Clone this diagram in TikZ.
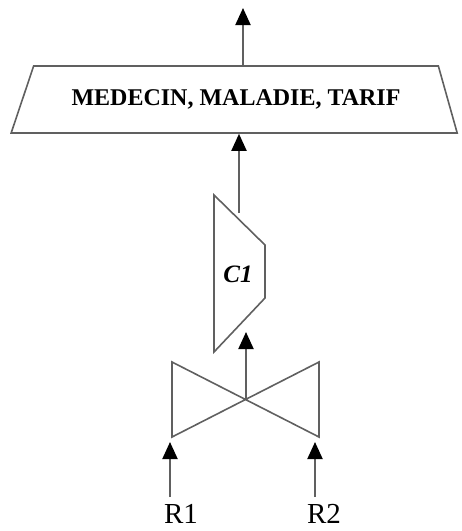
\documentclass[tikz,border=0pt]{standalone}
\usepackage{fontspec}
\setmainfont{Liberation Serif}
\usetikzlibrary{positioning, arrows.meta, shapes.geometric}

\begin{document}
\begin{tikzpicture}[
  x=1pt, y=-1pt,
  flow/.style={-{Triangle[length=17pt, width=15pt, black]}, line width=2pt, draw=gray!75!black},
  outline/.style={draw=gray!75!black, line width=1.6pt, line join=miter},
  tabbox/.style={trapezium, trapezium stretches=true, trapezium left angle=47,
    trapezium right angle=52, minimum width=448pt, minimum height=67pt,
    outline, font=\fontsize{24}{24}\selectfont\bfseries, inner sep=0pt},
  reslabel/.style={font=\fontsize{29}{29}\selectfont, inner sep=0pt, anchor=base}
]
\useasboundingbox (0,0) rectangle (462,531);

% table (projection result)
\node[tabbox] (tab) at (236,99.5) {MEDECIN, MALADIE, TARIF};
\coordinate (out) at (243,8);

% --- composition C1 ---
\draw[outline] (214,195) -- (265,245) -- (265,298) -- (214,352) -- cycle;
\node[font=\fontsize{25}{25}\selectfont\bfseries\itshape] (c1) at (238,274) {C1};
\coordinate (c1out) at (239,213);
\coordinate (c1in) at (246,332);

% --- join of R1 and R2 ---
\draw[outline] (172,362) -- (319,437) -- (319,362) -- (172,437) -- cycle;
\coordinate (join) at (246,399);

% sources
\node[reslabel] (r1) at (181,523) {R1};
\node[reslabel] (r2) at (324,523) {R2};
\coordinate (r1out) at (170,497);
\coordinate (r1in) at (170,442);
\coordinate (r2out) at (315,497);
\coordinate (r2in) at (315,442);

% arrows
\draw[flow] (r1out) -- (r1in);
\draw[flow] (r2out) -- (r2in);
\draw[flow] (join) -- (c1in);
\draw[flow] (c1out) -- (tab.south -| c1out);
\draw[flow] (tab.north -| out) -- (out);

\end{tikzpicture}
\end{document}
